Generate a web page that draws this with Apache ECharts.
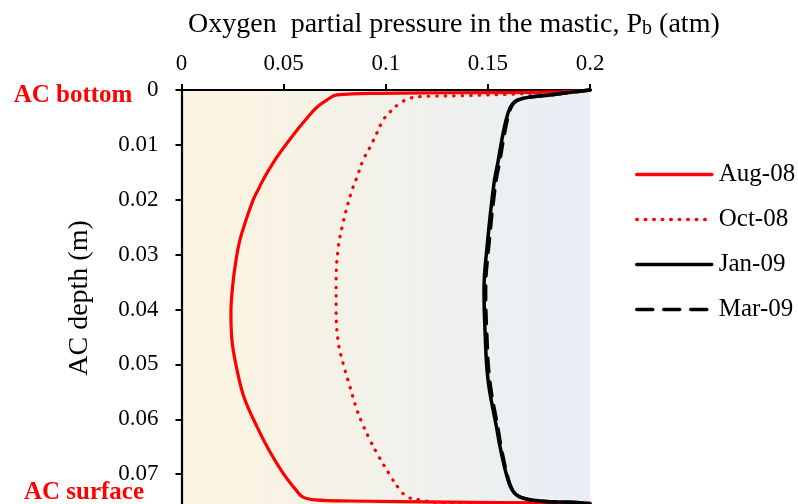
<!DOCTYPE html>
<html>
<head>
<meta charset="utf-8">
<script src="https://cdn.jsdelivr.net/npm/echarts@6/dist/echarts.min.js"></script>
<style>html,body{margin:0;padding:0;background:#fff;}#c{width:798px;height:504px;}</style>
</head>
<body>
<div id="c"></div>
<script>
// Series names
const seriesNames = ['Aug-08', 'Oct-08', 'Jan-09', 'Mar-09'];
// x ticks (atm) and y ticks (m)
const xTicks = [0, 0.05, 0.1, 0.15, 0.2];
const yTicks = [0, 0.01, 0.02, 0.03, 0.04, 0.05, 0.06, 0.07];

// Aug-08
const augP = [0.2, 0.1805, 0.1315, 0.0972, 0.0761, 0.0713, 0.0664, 0.0615, 0.0566, 0.0468, 0.0399, 0.0375, 0.0350, 0.0316, 0.0286, 0.0267, 0.0252, 0.0242, 0.0247, 0.0272, 0.0306, 0.0370, 0.0428, 0.0497, 0.0561, 0.0595, 0.0654, 0.0825, 0.1315, 0.2];
const augD = [0, 0.0004, 0.0005, 0.0006, 0.0009, 0.0018, 0.0031, 0.0051, 0.0073, 0.0122, 0.0164, 0.0182, 0.0201, 0.0237, 0.0273, 0.0310, 0.0352, 0.0406, 0.0456, 0.0510, 0.0560, 0.0614, 0.0656, 0.0698, 0.0729, 0.0742, 0.0747, 0.0749, 0.0751, 0.0753];
// Oct-08
const octP = [0.2, 0.1658, 0.1413, 0.1168, 0.1119, 0.1070, 0.1021, 0.0987, 0.0957, 0.0923, 0.0889, 0.0859, 0.0830, 0.0791, 0.0766, 0.0757, 0.0757, 0.0766, 0.0791, 0.0825, 0.0859, 0.0889, 0.0923, 0.0957, 0.1021, 0.1070, 0.1109, 0.1168, 0.1300, 0.2];
const octD = [0, 0.0007, 0.0010, 0.0012, 0.0015, 0.0024, 0.0040, 0.0055, 0.0078, 0.0104, 0.0128, 0.0159, 0.0188, 0.0242, 0.0292, 0.0352, 0.0396, 0.0456, 0.0498, 0.0541, 0.0583, 0.0611, 0.0638, 0.0662, 0.0702, 0.0729, 0.0742, 0.0747, 0.0753, 0.0754];
// Jan-09
const janP = [0.2, 0.1805, 0.1673, 0.1624, 0.1599, 0.1575, 0.1550, 0.1530, 0.1496, 0.1481, 0.1486, 0.1501, 0.1545, 0.1560, 0.1594, 0.1619, 0.1658, 0.1756, 0.1952, 0.2];
const janD = [0, 0.0009, 0.0015, 0.0024, 0.0042, 0.0078, 0.0130, 0.0170, 0.0286, 0.0365, 0.0438, 0.0529, 0.0620, 0.0651, 0.0705, 0.0729, 0.0742, 0.0749, 0.0752, 0.0754];
// Mar-09
const marP = [0.2, 0.1805, 0.1673, 0.1626, 0.1604, 0.1582, 0.1558, 0.1538, 0.1504, 0.1489, 0.1494, 0.1509, 0.1551, 0.1565, 0.1597, 0.1621, 0.1658, 0.1756, 0.1952, 0.2];
const marD = [0, 0.0009, 0.0015, 0.0024, 0.0042, 0.0078, 0.0130, 0.0170, 0.0286, 0.0365, 0.0438, 0.0529, 0.0620, 0.0651, 0.0705, 0.0729, 0.0742, 0.0749, 0.0752, 0.0754];

const pair = (p, d) => p.map((v, i) => [v, d[i]]);
const FONT = '"Liberation Serif", "Times New Roman", serif';

const chart = echarts.init(document.getElementById('c'), null, {renderer: 'canvas'});

function lineSeries(name, p, d, color, width, type) {
  return {
    name: name, type: 'line', data: pair(p, d),
    showSymbol: false, symbol: 'none', smooth: 0.4, clip: false,
    lineStyle: {color: color, width: width, type: type, cap: 'round', join: 'round'},
    itemStyle: {color: color}
  };
}

chart.setOption({
  animation: false,
  backgroundColor: '#ffffff',
  grid: {
    left: 181.5, top: 90, width: 408.5, height: 439,
    outerBoundsMode: 'none', containLabel: false,
    show: true, borderWidth: 0,
    backgroundColor: new echarts.graphic.LinearGradient(0, 0, 1, 0, [
      {offset: 0, color: '#FBF4E0'},
      {offset: 0.5, color: '#F2F1EA'},
      {offset: 1, color: '#E8EFF7'}
    ])
  },
  legend: {
    orient: 'vertical', left: 630, top: 157,
    itemWidth: 75, itemHeight: 24, itemGap: 20,
    itemStyle: {opacity: 0},
    lineStyle: {width: 3.5},
    textStyle: {fontFamily: FONT, fontSize: 25, color: '#000', lineHeight: 24, padding: [0, 0, 0, 2]},
    data: [
      {name: seriesNames[0]},
      {name: seriesNames[1]},
      {name: seriesNames[2]},
      {name: seriesNames[3], lineStyle: {type: [16, 11], width: 3.5}}
    ]
  },
  xAxis: {
    type: 'value', position: 'top', min: xTicks[0], max: xTicks[xTicks.length - 1], interval: 0.05,
    axisLine: {show: true, onZero: false, lineStyle: {color: '#000', width: 2.2}},
    axisTick: {show: true, length: 6, lineStyle: {color: '#000', width: 2}},
    axisLabel: {fontFamily: FONT, fontSize: 23, color: '#000', margin: 15,
      formatter: v => xTicks.indexOf(+v.toFixed(4)) >= 0 ? String(+v.toFixed(4)) : ''},
    splitLine: {show: false}
  },
  yAxis: {
    type: 'value', inverse: true, min: 0, max: 0.08, interval: 0.01,
    axisLine: {show: true, onZero: false, lineStyle: {color: '#000', width: 2.2}},
    axisTick: {show: true, length: 6, lineStyle: {color: '#000', width: 2}},
    axisLabel: {fontFamily: FONT, fontSize: 23, color: '#000', margin: 23,
      formatter: v => yTicks.indexOf(+v.toFixed(4)) >= 0 ? String(+v.toFixed(4)) : ''},
    splitLine: {show: false}
  },
  graphic: [
    {type: 'text', left: 188, top: 11, style: {
      text: '{a|Oxygen  partial pressure in the mastic, P}{s|b}{a| (atm)}',
      rich: {a: {fontFamily: FONT, fontSize: 28, fill: '#000'}, s: {fontFamily: FONT, fontSize: 20, fill: '#000', padding: [7, 0, 0, 0]}},
      fill: '#000'}},
    {type: 'text', x: 80, y: 298, rotation: Math.PI / 2, style: {
      text: 'AC depth (m)', fontFamily: FONT, fontSize: 28, fill: '#000', align: 'center', verticalAlign: 'middle'}},
    {type: 'text', x: 73, y: 96, style: {
      text: 'AC bottom', fontFamily: FONT, fontSize: 25, fontWeight: 'bold', fill: '#FF0000', align: 'center', verticalAlign: 'middle'}},
    {type: 'text', x: 84, y: 493, style: {
      text: 'AC surface', fontFamily: FONT, fontSize: 25, fontWeight: 'bold', fill: '#FF0000', align: 'center', verticalAlign: 'middle'}}
  ],
  series: [
    lineSeries(seriesNames[0], augP, augD, '#FF0000', 3.2, 'solid'),
    lineSeries(seriesNames[1], octP, octD, '#FF0000', 3.2, [0.5, 8]),
    lineSeries(seriesNames[2], janP, janD, '#000000', 3.5, 'solid'),
    lineSeries(seriesNames[3], marP, marD, '#000000', 3.5, [14, 10])
  ]
});
</script>
</body>
</html>
